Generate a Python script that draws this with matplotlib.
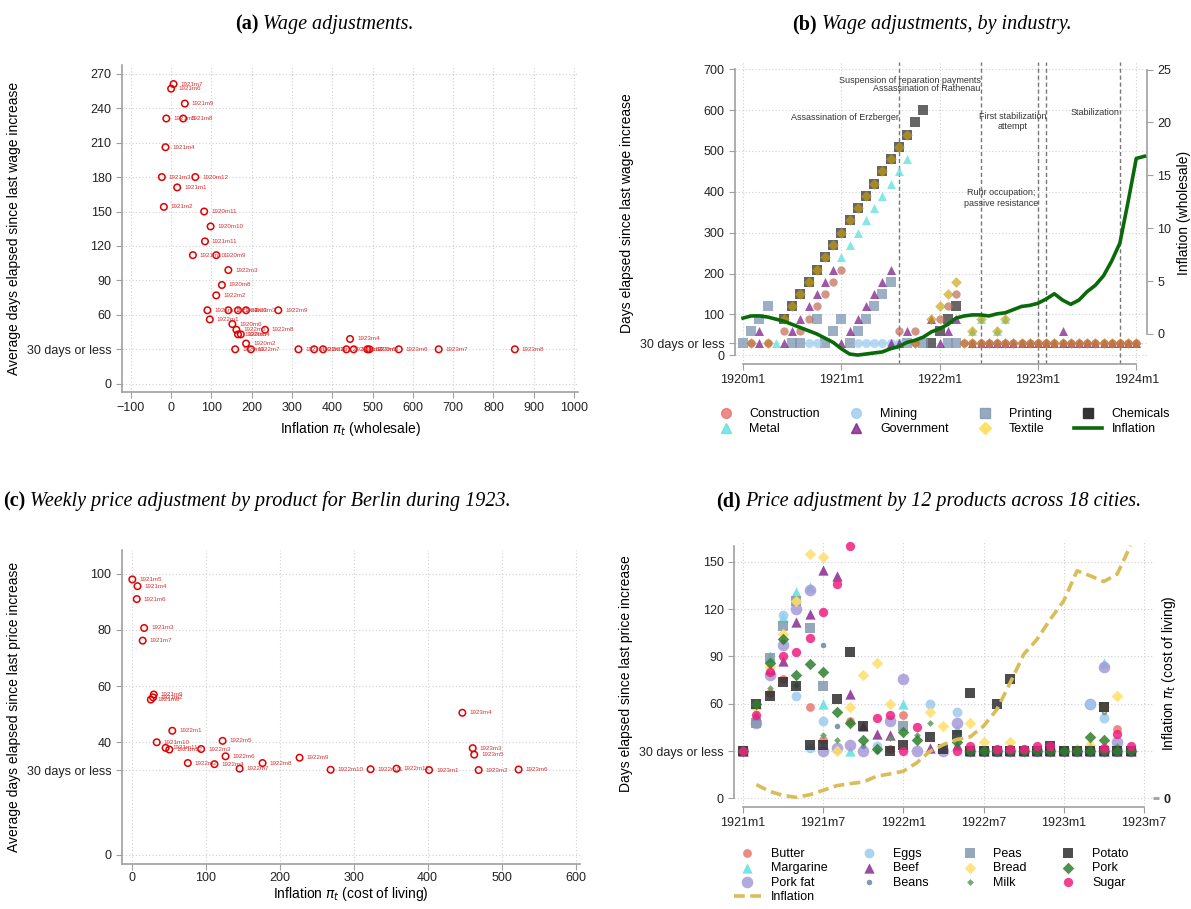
import numpy as np
import matplotlib.pyplot as plt
from matplotlib.lines import Line2D

plt.rcParams["font.family"] = ["Liberation Sans", "DejaVu Sans"]

# ---------- panel (a): wage adjustments vs wholesale inflation
a_infl = [6, 0, 34, -12, 30, -14, -23, 60, 15, -18, 82, 98, 84, 54, 112, 142, 126, 112,
          90, 142, 166, 186, 266, 96, 152, 162, 233, 166, 173, 186, 444,
          159, 198, 316, 355, 377, 435, 453, 487, 492, 565, 664, 853]
a_days = [261, 257, 244, 231, 231, 206, 180, 180, 171, 154, 150, 137, 124, 112, 112, 99, 86, 77,
          64, 64, 64, 64, 64, 56, 52, 47, 47, 43, 43, 35, 39,
          30, 30, 30, 30, 30, 30, 30, 30, 30, 30, 30, 30]
a_lab = ["1921m7", "1921m6", "1921m9", "1921m5", "1921m8", "1921m4", "1921m3", "1920m12",
         "1921m1", "1921m2", "1920m11", "1920m10", "1921m11", "1921m10", "1920m9", "1922m3",
         "1920m8", "1922m2", "1921m12", "1922m4", "1922m6", "1923m3", "1922m9", "1922m1",
         "1920m6", "1922m5", "1922m8", "1920m5", "1920m4", "1920m2", "1923m4",
         "1920m1", "1922m7", "1922m10", "1922m11", "1922m12", "1923m1", "1923m2", "1923m5",
         "1920m3", "1923m6", "1923m7", "1923m8"]

# ---------- panel (c): Berlin weekly price adjustment vs cost of living inflation
c_infl = [1, 8, 7, 17, 15, 30, 26, 29, 55, 34, 46, 51, 123, 94, 127, 227, 76, 112, 177,
          146, 269, 323, 358, 402, 469, 523, 447, 461, 463]
c_days = [98, 95.6, 91, 80.7, 76.2, 57, 55.2, 56, 44.1, 40, 38, 37.4, 40.5, 37.6, 35, 34.5,
          32.6, 32.2, 32.6, 30.6, 30.2, 30.4, 30.6, 30.1, 30.1, 30.3, 50.5, 37.9, 35.6]
c_lab = ["1921m5", "1921m4", "1921m6", "1921m3", "1921m7", "1921m9", "1921m8", "1921m2",
         "1922m1", "1921m10", "1921m11", "1921m12", "1922m5", "1922m3", "1922m6", "1922m9",
         "1922m2", "1922m4", "1922m8", "1922m7", "1922m10", "1922m11", "1922m12", "1923m1",
         "1923m2", "1923m6", "1923m4", "1923m3", "1923m5"]

# ---------- panel (b): wage adjustments by industry (x = months since 1920m1)
b_infl = [1.5, 1.7, 1.7, 1.6, 1.4, 1.2, 0.9, 0.6, 0.3, 0.0, -0.4, -0.8, -1.4, -1.9, -2.0,
          -1.9, -1.8, -1.7, -1.4, -1.2, -0.8, -0.6, -0.3, 0.2, 0.5, 0.9, 1.5, 1.7, 1.8, 1.8,
          1.7, 1.9, 2.0, 2.3, 2.6, 2.7, 2.9, 3.3, 3.8, 3.2, 2.8, 3.2, 4.0, 4.6, 5.5, 6.9,
          8.6, 12.5, 16.6, 16.8]
late = list(range(27, 49))
constr_m = [5, 7, 8, 9, 10, 11, 12, 19, 21, 24, 25, 26, 1, 3, 21] + late
constr_v = [60, 60, 90, 120, 150, 180, 210, 60, 60, 90, 120, 150, 30, 30, 30] + [30] * len(late)
metal_m = [12, 13, 14, 15, 16, 17, 18, 19, 20, 28, 29, 31, 32, 4, 39]
metal_v = [240, 270, 300, 330, 360, 390, 420, 450, 480, 60, 90, 60, 90, 30, 30]
mining_m = [8, 9, 14, 15, 16, 17, 18, 19]
mining_v = [30, 30, 30, 30, 30, 30, 30, 30]
gov_m = [2, 6, 7, 8, 9, 10, 11, 13, 14, 15, 16, 17, 18, 20, 23, 25, 26, 39,
         2, 5, 12, 18, 19, 24, 28, 29, 30, 31, 32] + list(range(33, 49))
gov_v = [60, 60, 90, 120, 150, 180, 210, 60, 90, 120, 150, 180, 210, 60, 90, 60, 90, 60,
         30, 30, 30, 30, 30, 30, 30, 30, 30, 30, 30] + [30] * 16
print_m = [1, 2, 3, 9, 11, 12, 14, 15, 16, 17, 18, 0, 6, 7, 10, 13, 20, 22, 25, 26]
print_v = [60, 90, 120, 90, 60, 90, 60, 90, 120, 150, 180, 30, 30, 30, 30, 30, 30, 30, 30, 30]
textile_m = list(range(5, 21)) + [23, 24, 25, 26, 28, 29, 31, 32, 1, 3, 21] + late
textile_v = [90, 120, 150, 180, 210, 240, 270, 300, 330, 360, 390, 420, 450, 480, 510, 540,
             90, 120, 150, 180, 60, 90, 60, 90, 30, 30, 30] + [30] * len(late)
chem_m = list(range(5, 23)) + [24, 25, 26, 23]
chem_v = [90, 120, 150, 180, 210, 240, 270, 300, 330, 360, 390, 420, 450, 480, 510, 540,
          570, 600, 60, 90, 120, 30]
events_m = [19, 29, 36, 37, 46]

# ---------- panel (d): 12 products across 18 cities (x = months since 1921m1)
d_infl = [8.7, 4.4, 1.9, 0.6, 2.3, 5.1, 8.0, 9.3, 10.4, 14.0, 15.5, 17.2, 22.5, 29.9, 34.1,
          37.3, 39.0, 45.8, 56.4, 73.3, 91.3, 100.8, 113.6, 125.2, 144.3, 141.1, 137.5,
          142.2, 160.2]
d_infl_m = list(range(1, 30))
flat = list(range(17, 30))
butter_m = [0, 2, 3, 5, 6, 8, 11, 12, 28] + flat
butter_v = [30, 67, 76, 58, 37, 49, 31, 53, 44] + [30] * len(flat)
marg_m = [0, 1, 2, 3, 4, 5, 6, 8, 12, 16, 27] + flat
marg_v = [30, 60, 90, 115, 131, 134, 60, 30, 60, 44, 86] + [30] * len(flat)
porkfat_m = [0, 1, 2, 3, 4, 5, 6, 7, 8, 9, 11, 12, 13, 15, 16, 26, 27, 28] + flat
porkfat_v = [30, 48, 78, 97, 120, 132, 30, 32, 34, 30, 49, 76, 30, 30, 48, 60, 83, 36] + [30] * len(flat)
eggs_m = [0, 3, 4, 5, 6, 10, 14, 16, 26, 27] + flat
eggs_v = [30, 116, 65, 32, 49, 33, 60, 55, 60, 51] + [30] * len(flat)
beef_m = [0, 1, 2, 3, 4, 5, 6, 7, 8, 9, 10, 11, 14, 16, 26, 27] + flat
beef_v = [30, 53, 82, 87, 112, 117, 145, 141, 66, 46, 41, 40, 32, 34, 33, 32] + [30] * len(flat)
beans_m = [0, 3, 6, 7, 9, 10, 27] + flat
beans_v = [30, 100, 97, 46, 33, 30, 55] + [30] * len(flat)
peas_m = [0, 1, 2, 3, 4, 5, 6, 12, 27] + flat
peas_v = [30, 48, 89, 109, 125, 108, 71, 46, 58] + [30] * len(flat)
bread_m = [0, 1, 2, 3, 4, 5, 6, 7, 8, 9, 10, 11, 14, 15, 17, 18, 20, 25, 26, 27, 28]
bread_v = [30, 57, 83, 104, 125, 155, 153, 30, 58, 78, 86, 60, 55, 46, 48, 36, 36, 31, 34, 58, 65]
milk_m = [0, 2, 4, 6, 7, 11, 13, 14, 28] + flat
milk_v = [30, 70, 72, 40, 37, 38, 40, 48, 33] + [30] * len(flat)
potato_m = [0, 1, 2, 3, 4, 5, 6, 7, 8, 9, 11, 12, 14, 15, 16, 17, 19, 20, 23, 27] + flat
potato_v = [30, 60, 65, 74, 71, 34, 34, 63, 93, 46, 30, 34, 39, 31, 40, 67, 60, 76, 33, 58] + [30] * len(flat)
pork_m = [0, 1, 2, 3, 4, 5, 6, 7, 8, 9, 10, 12, 13, 16, 26, 27] + flat
pork_v = [30, 60, 86, 101, 78, 85, 80, 55, 48, 37, 31, 42, 37, 36, 39, 37] + [30] * len(flat)
sugar_m = [0, 1, 2, 3, 4, 5, 6, 7, 8, 10, 11, 12, 13, 16, 17, 19, 20, 21, 22, 23, 27, 28, 29]
sugar_v = [30, 53, 80, 90, 93, 102, 118, 136, 160, 51, 53, 30, 45, 30, 33, 31, 31, 31, 33, 33, 32, 41, 33]

GRID = dict(color="#d0d0d0", linestyle=(0, (1, 2)), linewidth=0.8)
TITLE = dict(fontsize=14.5, family=["Liberation Serif", "DejaVu Serif"])


def style(ax):
    for s in ["top", "right"]:
        ax.spines[s].set_visible(False)
    for s in ["left", "bottom"]:
        ax.spines[s].set_color("#a0a0a0")
        ax.spines[s].set_linewidth(1.2)
    ax.tick_params(colors="#a0a0a0", labelcolor="#222222", labelsize=9, length=4)
    ax.grid(True, **GRID)
    ax.set_axisbelow(True)


def title(fig, x, y, letter, text):
    fig.text(x, y, f"({letter})", ha="right", fontweight="bold", **TITLE)
    fig.text(x + 0.004, y, text, ha="left", style="italic", **TITLE)


fig = plt.figure(figsize=(11.91, 9.09), dpi=100)

# ---- (a)
ax = fig.add_axes([0.1024, 0.569, 0.383, 0.36])
style(ax)
ax.scatter(a_infl, a_days, s=22, facecolors="none", edgecolors="#e00000", linewidths=1.1, zorder=3)
for x, y, t in zip(a_infl, a_days, a_lab):
    ax.annotate(t, (x, y), xytext=(5, 0), textcoords="offset points", fontsize=4.5,
                color="#e03030", va="center")
ax.set_xlim(-122, 1010)
ax.set_ylim(-7, 278)
ax.set_xticks(np.arange(-100, 1001, 100))
ax.set_yticks([0, 30, 60, 90, 120, 150, 180, 210, 240, 270])
ax.set_yticklabels(["0", "30 days or less", "60", "90", "120", "150", "180", "210", "240", "270"])
ax.set_xlabel(r"Inflation $\pi_t$ (wholesale)", fontsize=10)
ax.set_ylabel("Average days elapsed since last wage increase", fontsize=10)
title(fig, 0.217, 0.968, "a", "Wage adjustments.")

# ---- (b)
ax = fig.add_axes([0.617, 0.5996, 0.346, 0.332])
style(ax)
ax.spines["left"].set_bounds(0, 700)
ax.spines["bottom"].set_bounds(0, 48)
mk = dict(s=42, alpha=0.75, linewidths=0, zorder=3)
ax.scatter(chem_m, chem_v, marker="s", color="#333333", label="Chemicals", **mk)
ax.scatter(print_m, print_v, marker="s", color="#7d95b0", label="Printing", **mk)
ax.scatter(mining_m, mining_v, marker="o", color="#9ccbef", label="Mining", **mk)
ax.scatter(metal_m, metal_v, marker="^", color="#5fe0e0", label="Metal", **mk)
ax.scatter(gov_m, gov_v, marker="^", color="#7f1f8a", label="Government", **mk)
ax.scatter(textile_m, textile_v, marker="D", s=30, alpha=0.65, linewidths=0, color="#c9a000",
           label="Textile", zorder=3)
ax.scatter(constr_m, constr_v, marker="o", color="#c06a55", s=36, alpha=0.7, linewidths=0,
           label="Construction", zorder=3)
for m in events_m:
    ax.axvline(m, color="#777777", linestyle=(0, (3, 2)), linewidth=1, zorder=2)
ax.set_xlim(-1, 49.3)
ax.set_ylim(-21, 717)
ax.set_xticks([0, 12, 24, 36, 48])
ax.set_xticklabels(["1920m1", "1921m1", "1922m1", "1923m1", "1924m1"])
ax.set_yticks([0, 30, 100, 200, 300, 400, 500, 600, 700])
ax.set_yticklabels(["0", "30 days or less", "100", "200", "300", "400", "500", "600", "700"])
ax.set_ylabel("Days elapsed since last wage increase", fontsize=10)
ann = dict(fontsize=6.5, color="#333333", ha="right", zorder=5)
ax.text(29, 666, "Suspension of reparation payments", **ann)
ax.text(29, 646, "Assassination of Rathenau", **ann)
ax.text(19, 576, "Assassination of Erzberger", **ann)
ax.text(37, 553, "First stabilization\nattempt", multialignment="center", **ann)
ax.text(36, 366, "Ruhr occupation;\npassive resistance", multialignment="center", **ann)
ax.text(46, 588, "Stabilization", **ann)
ax2 = ax.twinx()
ax2.plot(range(len(b_infl)), b_infl, color="#0a6a0a", linewidth=2.6, zorder=5)
ax2.set_ylim(-2.84, 25.7)
ax2.set_yticks([0, 5, 10, 15, 20, 25])
for s in ["top", "left", "bottom"]:
    ax2.spines[s].set_visible(False)
ax2.spines["right"].set_color("#a0a0a0")
ax2.spines["right"].set_linewidth(1.2)
ax2.spines["right"].set_bounds(0, 25)
ax2.tick_params(colors="#a0a0a0", labelcolor="#222222", labelsize=9, length=4)
ax2.set_ylabel("Inflation (wholesale)", fontsize=10)
h = [Line2D([], [], marker="o", color="#ea6f6b", ls="", ms=7, alpha=0.8),
     Line2D([], [], marker="^", color="#5fe0e0", ls="", ms=7, alpha=0.8),
     Line2D([], [], marker="o", color="#9ccbef", ls="", ms=7, alpha=0.8),
     Line2D([], [], marker="^", color="#7f1f8a", ls="", ms=7, alpha=0.8),
     Line2D([], [], marker="s", color="#7d95b0", ls="", ms=7, alpha=0.8),
     Line2D([], [], marker="D", color="#ffe066", ls="", ms=6),
     Line2D([], [], marker="s", color="#333333", ls="", ms=7),
     Line2D([], [], color="#0a6a0a", lw=2.6)]
lab = ["Construction", "Metal", "Mining", "Government", "Printing", "Textile", "Chemicals", "Inflation"]
ax.legend(h, lab, ncol=4, loc="upper center", bbox_to_anchor=(0.5, -0.11), frameon=False,
          fontsize=9, handlelength=2.2, columnspacing=1.8, labelspacing=0.2)
title(fig, 0.686, 0.968, "b", "Wage adjustments, by industry.")

# ---- (c)
ax = fig.add_axes([0.1024, 0.05, 0.3846, 0.345])
style(ax)
ax.scatter(c_infl, c_days, s=22, facecolors="none", edgecolors="#e00000", linewidths=1.1, zorder=3)
for x, y, t in zip(c_infl, c_days, c_lab):
    ax.annotate(t, (x, y), xytext=(5, 0), textcoords="offset points", fontsize=4.5,
                color="#e03030", va="center")
ax.set_xlim(-13, 606)
ax.set_ylim(-3.2, 108.5)
ax.set_xticks(np.arange(0, 601, 100))
ax.set_yticks([0, 30, 40, 60, 80, 100])
ax.set_yticklabels(["0", "30 days or less", "40", "60", "80", "100"])
ax.tick_params(axis="x", pad=2)
ax.set_xlabel(r"Inflation $\pi_t$ (cost of living)", fontsize=10, labelpad=1)
ax.set_ylabel("Average days elapsed since last price increase", fontsize=10)
title(fig, 0.021, 0.443, "c", "Weekly price adjustment by product for Berlin during 1923.")

# ---- (d)
ax = fig.add_axes([0.6163, 0.1122, 0.352, 0.294])
style(ax)
ax.spines["bottom"].set_bounds(0, 30)
ax.spines["left"].set_bounds(0, 160)
pm = dict(alpha=0.85, linewidths=0, zorder=3)
series = [
    ("Butter", butter_m, butter_v, "o", "#e8776f", 40),
    ("Margarine", marg_m, marg_v, "^", "#5fe0e0", 55),
    ("Pork fat", porkfat_m, porkfat_v, "o", "#a69ad9", 70),
    ("Eggs", eggs_m, eggs_v, "o", "#9ccbef", 50),
    ("Beef", beef_m, beef_v, "^", "#8a2a92", 55),
    ("Beans", beans_m, beans_v, "o", "#6d86a4", 16),
    ("Peas", peas_m, peas_v, "s", "#8498b0", 45),
    ("Bread", bread_m, bread_v, "D", "#ffdf6a", 35),
    ("Milk", milk_m, milk_v, "D", "#5a9e5a", 12),
    ("Potato", potato_m, potato_v, "s", "#2e2e2e", 45),
    ("Pork", pork_m, pork_v, "D", "#2f7f2f", 35),
    ("Sugar", sugar_m, sugar_v, "o", "#f0207f", 45),
]
for name, xm, yv, m, c, s in series:
    ax.scatter(xm, yv, marker=m, color=c, s=s, label=name, **pm)
ax.plot(d_infl_m, d_infl, color="#d9bd5a", linewidth=2.6, linestyle=(0, (3, 1.5)),
        label="Inflation", zorder=4)
ax.set_xlim(-0.67, 30.7)
ax.set_ylim(-5.5, 164)
ax.set_xticks([0, 6, 12, 18, 24, 30])
ax.set_xticklabels(["1921m1", "1921m7", "1922m1", "1922m7", "1923m1", "1923m7"])
ax.set_yticks([0, 30, 60, 90, 120, 150])
ax.set_yticklabels(["0", "30 days or less", "60", "90", "120", "150"])
ax.set_ylabel("Days elapsed since last price increase", fontsize=10)
ax2 = ax.twinx()
ax2.set_ylim(-5.5, 164)
ax2.set_yticks([0])
ax2.set_yticklabels(["0"], fontweight="bold")
for s in ["top", "left", "bottom", "right"]:
    ax2.spines[s].set_visible(False)
ax2.tick_params(colors="#a0a0a0", labelcolor="#222222", labelsize=9, length=4, width=2)
ax2.set_ylabel(r"Inflation $\pi_t$ (cost of living)", fontsize=10, labelpad=-8)
hs, ls = ax.get_legend_handles_labels()
order = ["Butter", "Margarine", "Pork fat", "Inflation", "Eggs", "Beef", "Beans",
         "Peas", "Bread", "Milk", "Potato", "Pork", "Sugar"]
hmap = dict(zip(ls, hs))
ax.legend([hmap[k] for k in order], order, ncol=4, loc="upper center",
          bbox_to_anchor=(0.47, -0.11), frameon=False, fontsize=9, handlelength=2.2,
          columnspacing=2.2, labelspacing=0.2)
title(fig, 0.622, 0.443, "d", "Price adjustment by 12 products across 18 cities.")

fig.savefig("out.png", dpi=100)
